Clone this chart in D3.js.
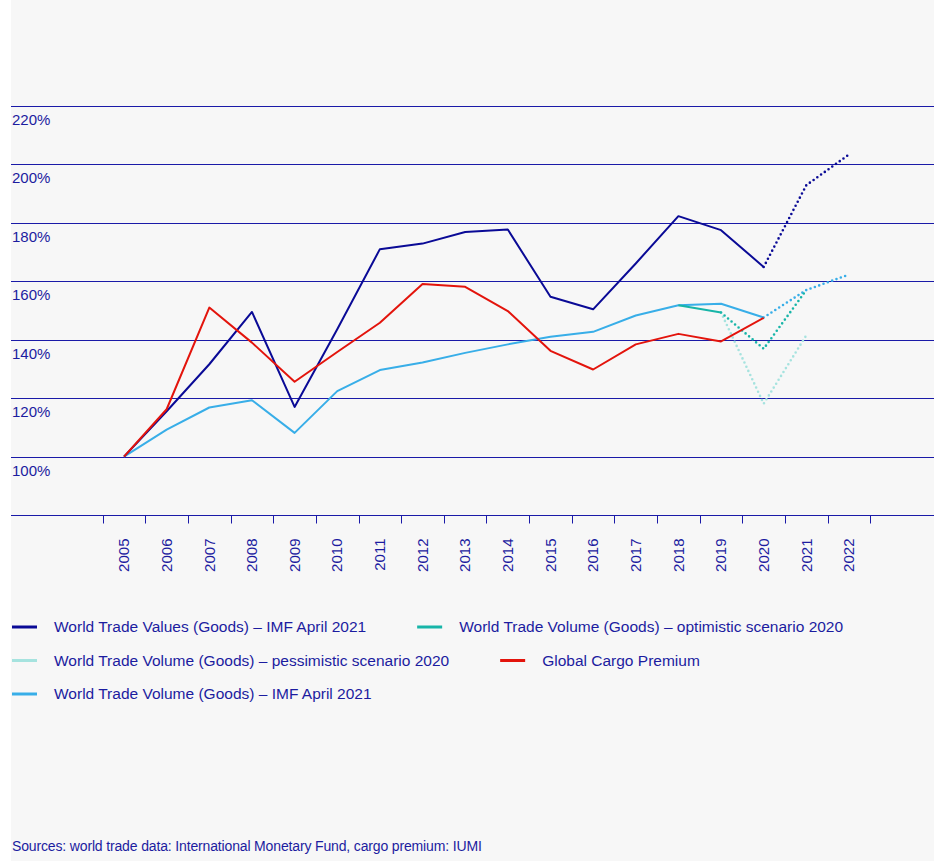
<!DOCTYPE html>
<html>
<head>
<meta charset="utf-8">
<script src="https://cdn.jsdelivr.net/npm/d3@7"></script>
<style>
  body { margin: 0; background: #fff; }
  svg text { font-family: "Liberation Sans", Arial, sans-serif; fill: #1c1ca0; }
</style>
</head>
<body>
<svg id="chart" width="939" height="861"></svg>
<script>
var years = [2005, 2006, 2007, 2008, 2009, 2010, 2011, 2012, 2013, 2014, 2015, 2016, 2017, 2018, 2019, 2020, 2021, 2022]
var yTicks = [100, 120, 140, 160, 180, 200, 220]

// values in % (2005 = 100)
var tradeValues = [100, 115.5, 131.6, 149.5, 117, 143.6, 171, 172.9, 176.9, 177.7, 154.7, 150.4, 166.1, 182.3, 177.5, 164.9, 192.9, 203.4]
var tradeVolume = [100, 109.2, 116.8, 119.3, 108.1, 122.4, 129.6, 132.2, 135.5, 138.4, 141, 142.7, 148.3, 151.8, 152.3, 147.6, 157, 162.3]
var cargoPremium = [100, 116.2, 151, 139, 125.6, 135.8, 145.8, 159.1, 158.1, 149.8, 136.2, 129.8, 138.4, 142, 139.4, 147.5, null, null]
var optimistic = [null, null, null, null, null, null, null, null, null, null, null, null, null, 151.8, 149.3, 136.9, 157, null]
var pessimistic = [null, null, null, null, null, null, null, null, null, null, null, null, null, null, 149.3, 118.1, 141.5, null]
var sourceText = "Sources: world trade data: International Monetary Fund, cargo premium: IUMI"

var svg = d3.select('svg#chart')
var width = 939
var height = 861
var margin = {left: 11, right: 5}

svg.append("rect")
    .attr("x", margin.left).attr("y", 0)
    .attr("width", width - margin.left - margin.right).attr("height", height)
    .attr("fill", "#f7f7f7")

var x = d3.scaleBand()
    .domain(years)
    .range([102.7, 870.3])
var y = d3.scaleLinear()
    .domain([80, 220])
    .range([515, 106])

var navy = "#0a0a96"

// gridlines + labels
var grid = svg.append("g")
grid.selectAll("line")
  .data(yTicks)
  .enter().append("line")
    .attr("x1", margin.left).attr("x2", width - margin.right)
    .attr("y1", d => Math.round(y(d)) + 0.5).attr("y2", d => Math.round(y(d)) + 0.5)
    .attr("stroke", "#1a1aa8").attr("stroke-width", 1.2)
grid.selectAll("text")
  .data(yTicks)
  .enter().append("text")
    .attr("x", 12)
    .attr("y", d => y(d) + 19)
    .style("font-size", "15px")
    .text(d => d + "%")

// x axis
var xAxis = g => g
    .attr("transform", `translate(0,${Math.round(y(80)) + 0.5})`)
    .call(d3.axisBottom(x).tickSize(0).tickFormat(d => d))
    .call(g => g.select(".domain").remove())
    .call(g => g.selectAll(".tick text")
        .attr("transform", "rotate(-90)")
        .attr("x", -23).attr("y", 0).attr("dy", "0.35em")
        .attr("text-anchor", "end")
        .style("font-size", "15px")
        .style("font-family", null)
        .attr("fill", null))

var axisG = svg.append("g").call(xAxis)
axisG.append("line")
    .attr("x1", margin.left).attr("x2", width - margin.right)
    .attr("stroke", "#1a1aa8").attr("stroke-width", 1.2)
var bounds = years.map(d => x(d)).concat([x(2022) + x.bandwidth()])
axisG.selectAll("line.tk")
  .data(bounds)
  .enter().append("line")
    .attr("class", "tk")
    .attr("x1", d => Math.round(d) + 0.5).attr("x2", d => Math.round(d) + 0.5)
    .attr("y1", 0).attr("y2", 8)
    .attr("stroke", "#1a1aa8")

var cx = d => x(d) + x.bandwidth() / 2
function seg(values, from, to) {
  return years.map((yr, i) => ({yr: yr, v: values[i]}))
    .filter(d => d.yr >= from && d.yr <= to && d.v != null)
}
var line = d3.line()
    .x(d => cx(d.yr))
    .y(d => y(d.v))

var series = [
  {values: tradeVolume, color: "#38aee8", solid: [2005, 2020], dotted: [2020, 2022]},
  {values: pessimistic, color: "#a6e3df", solid: null, dotted: [2019, 2021]},
  {values: optimistic, color: "#17b5a8", solid: [2018, 2019], dotted: [2019, 2021]},
  {values: tradeValues, color: navy, solid: [2005, 2020], dotted: [2020, 2022]},
  {values: cargoPremium, color: "#e3140c", solid: [2005, 2020], dotted: null}
]

var lines = svg.append("g")
    .attr("fill", "none")
    .attr("stroke-linejoin", "round")
series.forEach(s => {
  if (s.dotted) {
    lines.append("path")
      .attr("d", line(seg(s.values, s.dotted[0], s.dotted[1])))
      .attr("stroke", s.color)
      .attr("stroke-width", 2.6)
      .attr("stroke-linecap", "round")
      .attr("stroke-dasharray", "0 4.6")
  }
  if (s.solid) {
    lines.append("path")
      .attr("d", line(seg(s.values, s.solid[0], s.solid[1])))
      .attr("stroke", s.color)
      .attr("stroke-width", 2)
  }
})

// legend (flowing rows)
var legendItems = [
  {name: "World Trade Values (Goods) \u2013 IMF April 2021", color: navy},
  {name: "World Trade Volume (Goods) \u2013 optimistic scenario 2020", color: "#17b5a8"},
  {name: "World Trade Volume (Goods) \u2013 pessimistic scenario 2020", color: "#a6e3df"},
  {name: "Global Cargo Premium", color: "#e3140c"},
  {name: "World Trade Volume (Goods) \u2013 IMF April 2021", color: "#38aee8"}
]
var legend = svg.append("g")
var lx = 12, ly = 627, maxX = 925
legendItems.forEach(d => {
  var g = legend.append("g")
  var t = g.append("text")
      .attr("x", 42).attr("dy", "0.35em")
      .style("font-size", "15.5px")
      .text(d.name)
  var w = 42 + t.node().getComputedTextLength()
  if (lx > 12 && lx + w > maxX) { lx = 12; ly += 33.5 }
  g.attr("transform", `translate(${lx},${ly})`)
  g.append("line")
      .attr("x1", 0).attr("x2", 25)
      .attr("stroke", d.color).attr("stroke-width", 3)
  lx += w + 51
})

svg.append("text")
    .attr("x", 12).attr("y", 851)
    .style("font-size", "14px")
    .style("letter-spacing", "-0.15px")
    .text(sourceText)
</script>
</body>
</html>
